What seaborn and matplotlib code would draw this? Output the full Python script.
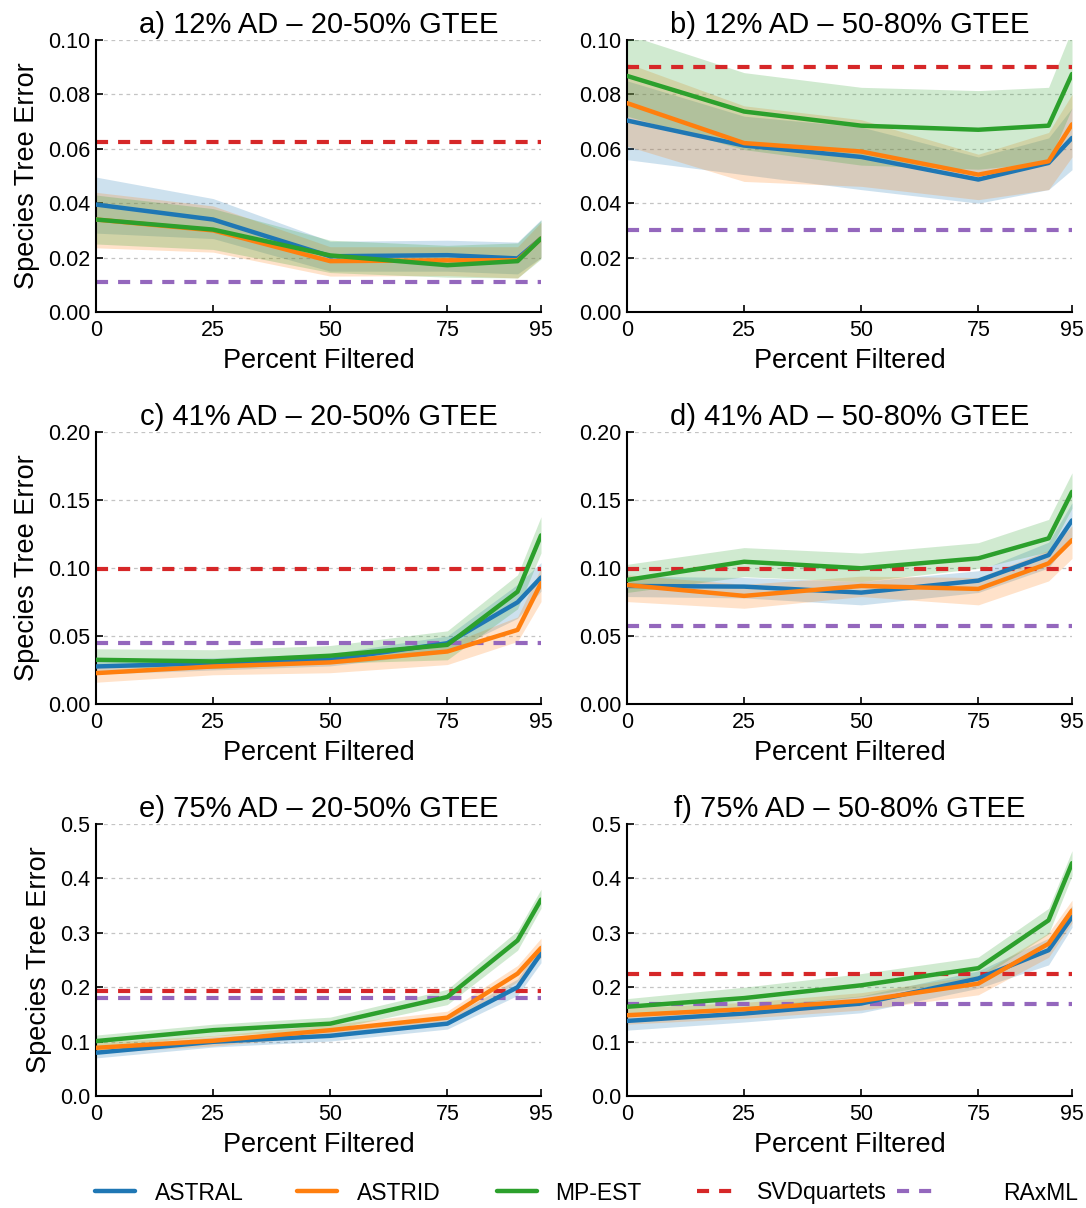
import matplotlib
matplotlib.use("Agg")
import numpy as np
import pandas as pd
import matplotlib.pyplot as plt
import seaborn as sns
from matplotlib.ticker import FormatStrFormatter
from matplotlib.lines import Line2D

sns.set_style("ticks")
plt.rcParams['font.family'] = ['Liberation Sans', 'DejaVu Sans']
plt.rcParams.update({"text.color": "black", "axes.labelcolor": "black",
                     "xtick.color": "black", "ytick.color": "black"})

# ---------------- data ----------------
filtered = [0, 25, 50, 75, 90, 95]
xticks = [0, 25, 50, 75, 95]
methods = ["ASTRAL", "ASTRID", "MP-EST"]
baselines = ["SVDquartets", "RAxML"]

titles = ["a) 12% AD – 20-50% GTEE", "b) 12% AD – 50-80% GTEE",
          "c) 41% AD – 20-50% GTEE", "d) 41% AD – 50-80% GTEE",
          "e) 75% AD – 20-50% GTEE", "f) 75% AD – 50-80% GTEE"]

# panel a
a_astral = [0.0395, 0.034, 0.0205, 0.0209, 0.0197, 0.027]
a_astral_lo = [0.029, 0.027, 0.015, 0.015, 0.014, 0.020]
a_astral_hi = [0.0496, 0.0417, 0.026, 0.0264, 0.0257, 0.034]
a_astrid = [0.034, 0.030, 0.0187, 0.019, 0.019, 0.027]
a_astrid_lo = [0.0236, 0.022, 0.0132, 0.0134, 0.0125, 0.020]
a_astrid_hi = [0.044, 0.039, 0.024, 0.024, 0.024, 0.033]
a_mpest = [0.034, 0.0303, 0.0208, 0.0172, 0.0187, 0.027]
a_mpest_lo = [0.025, 0.023, 0.0145, 0.0128, 0.0125, 0.0195]
a_mpest_hi = [0.043, 0.038, 0.0264, 0.0245, 0.0254, 0.0337]
a_svd, a_raxml = 0.0624, 0.0112

# panel b
b_astral = [0.0704, 0.0612, 0.057, 0.0487, 0.0548, 0.064]
b_astral_lo = [0.056, 0.0505, 0.045, 0.040, 0.045, 0.0523]
b_astral_hi = [0.085, 0.072, 0.068, 0.057, 0.064, 0.075]
b_astrid = [0.0768, 0.0621, 0.059, 0.0505, 0.0554, 0.069]
b_astrid_lo = [0.061, 0.048, 0.0462, 0.0413, 0.045, 0.057]
b_astrid_hi = [0.0915, 0.0758, 0.0707, 0.058, 0.066, 0.080]
b_mpest = [0.0868, 0.0737, 0.0685, 0.067, 0.0685, 0.0875]
b_mpest_lo = [0.072, 0.0597, 0.054, 0.0525, 0.055, 0.075]
b_mpest_hi = [0.102, 0.088, 0.0826, 0.0814, 0.0826, 0.104]
b_svd, b_raxml = 0.0902, 0.0301

# panel c
c_astral = [0.0276, 0.030, 0.0325, 0.0447, 0.0748, 0.093]
c_astral_lo = [0.022, 0.025, 0.028, 0.038, 0.063, 0.083]
c_astral_hi = [0.033, 0.034, 0.037, 0.050, 0.088, 0.104]
c_astrid = [0.0227, 0.0276, 0.0306, 0.0386, 0.0545, 0.0888]
c_astrid_lo = [0.016, 0.0215, 0.023, 0.029, 0.046, 0.0753]
c_astrid_hi = [0.028, 0.031, 0.034, 0.044, 0.064, 0.100]
c_mpest = [0.0325, 0.0313, 0.0355, 0.0435, 0.0826, 0.124]
c_mpest_lo = [0.0276, 0.026, 0.030, 0.0325, 0.070, 0.111]
c_mpest_hi = [0.0406, 0.0399, 0.043, 0.0538, 0.095, 0.1377]
c_svd, c_raxml = 0.099, 0.0447

# panel d
d_astral = [0.0868, 0.0863, 0.0819, 0.0907, 0.1095, 0.135]
d_astral_lo = [0.079, 0.078, 0.0729, 0.082, 0.100, 0.122]
d_astral_hi = [0.094, 0.093, 0.090, 0.098, 0.119, 0.148]
d_astrid = [0.0875, 0.0795, 0.0868, 0.0846, 0.1034, 0.1205]
d_astrid_lo = [0.0753, 0.0704, 0.079, 0.0729, 0.0905, 0.107]
d_astrid_hi = [0.095, 0.088, 0.094, 0.093, 0.113, 0.131]
d_mpest = [0.0912, 0.1046, 0.0998, 0.1071, 0.1218, 0.156]
d_mpest_lo = [0.082, 0.0936, 0.090, 0.0997, 0.112, 0.144]
d_mpest_hi = [0.1027, 0.115, 0.111, 0.1186, 0.1357, 0.170]
d_svd, d_raxml = 0.0993, 0.0572

# panel e
e_astral = [0.0795, 0.0996, 0.1106, 0.133, 0.200, 0.262]
e_astral_lo = [0.070, 0.090, 0.101, 0.123, 0.185, 0.245]
e_astral_hi = [0.089, 0.109, 0.120, 0.143, 0.215, 0.280]
e_astrid = [0.0886, 0.1015, 0.121, 0.144, 0.225, 0.272]
e_astrid_lo = [0.079, 0.092, 0.111, 0.133, 0.210, 0.255]
e_astrid_hi = [0.098, 0.111, 0.131, 0.156, 0.240, 0.290]
e_mpest = [0.1009, 0.121, 0.133, 0.182, 0.286, 0.361]
e_mpest_lo = [0.090, 0.110, 0.122, 0.168, 0.268, 0.345]
e_mpest_hi = [0.112, 0.132, 0.145, 0.196, 0.304, 0.380]
e_svd, e_raxml = 0.193, 0.180

# panel f
f_astral = [0.138, 0.1516, 0.170, 0.216, 0.268, 0.329]
f_astral_lo = [0.121, 0.136, 0.153, 0.198, 0.241, 0.310]
f_astral_hi = [0.152, 0.164, 0.184, 0.230, 0.290, 0.350]
f_astrid = [0.1485, 0.1595, 0.175, 0.2066, 0.280, 0.341]
f_astrid_lo = [0.132, 0.143, 0.158, 0.186, 0.255, 0.318]
f_astrid_hi = [0.162, 0.172, 0.190, 0.222, 0.300, 0.360]
f_mpest = [0.164, 0.180, 0.2035, 0.235, 0.323, 0.428]
f_mpest_lo = [0.148, 0.161, 0.183, 0.215, 0.298, 0.405]
f_mpest_hi = [0.179, 0.200, 0.225, 0.2555, 0.345, 0.451]
f_svd, f_raxml = 0.2243, 0.170

panels = [
    dict(mean=[a_astral, a_astrid, a_mpest], lo=[a_astral_lo, a_astrid_lo, a_mpest_lo],
         hi=[a_astral_hi, a_astrid_hi, a_mpest_hi], base=[a_svd, a_raxml]),
    dict(mean=[b_astral, b_astrid, b_mpest], lo=[b_astral_lo, b_astrid_lo, b_mpest_lo],
         hi=[b_astral_hi, b_astrid_hi, b_mpest_hi], base=[b_svd, b_raxml]),
    dict(mean=[c_astral, c_astrid, c_mpest], lo=[c_astral_lo, c_astrid_lo, c_mpest_lo],
         hi=[c_astral_hi, c_astrid_hi, c_mpest_hi], base=[c_svd, c_raxml]),
    dict(mean=[d_astral, d_astrid, d_mpest], lo=[d_astral_lo, d_astrid_lo, d_mpest_lo],
         hi=[d_astral_hi, d_astrid_hi, d_mpest_hi], base=[d_svd, d_raxml]),
    dict(mean=[e_astral, e_astrid, e_mpest], lo=[e_astral_lo, e_astrid_lo, e_mpest_lo],
         hi=[e_astral_hi, e_astrid_hi, e_mpest_hi], base=[e_svd, e_raxml]),
    dict(mean=[f_astral, f_astrid, f_mpest], lo=[f_astral_lo, f_astrid_lo, f_mpest_lo],
         hi=[f_astral_hi, f_astrid_hi, f_mpest_hi], base=[f_svd, f_raxml]),
]

row_ylim = [0.10, 0.20, 0.5]
row_yticks = [np.arange(0, 0.101, 0.02), np.arange(0, 0.201, 0.05), np.arange(0, 0.51, 0.1)]
row_fmt = ["%.2f", "%.2f", "%.1f"]

# ---------------- style ----------------
colors = {"ASTRAL": "#1f77b4", "ASTRID": "#ff7f0e", "MP-EST": "#2ca02c",
          "SVDquartets": "#d62728", "RAxML": "#9467bd"}
dash = (0, (2.9, 2.4))

W, H = 1086, 1208
fig = plt.figure(figsize=(W / 100, H / 100), dpi=100)

lefts = [96, 627]
bottoms_px = [312, 704, 1096]
ax_w, ax_h = 445, 272

for i, p in enumerate(panels):
    row, col = divmod(i, 2)
    ax = fig.add_axes([lefts[col] / W, 1 - bottoms_px[row] / H, ax_w / W, ax_h / H])
    ax.set_axisbelow(True)
    ax.yaxis.grid(True, linestyle=(0, (3, 3)), color="#c4c4c4", lw=0.9)

    for m, lo, hi in zip(methods, p["lo"], p["hi"]):
        ax.fill_between(filtered, lo, hi, color=colors[m], alpha=0.22, lw=0)

    for b, v in zip(baselines, p["base"]):
        ax.axhline(v, color=colors[b], lw=3, linestyle=dash, zorder=2)

    df = pd.DataFrame({
        "filtered": filtered * 3,
        "error": sum(p["mean"], []),
        "method": sum([[m] * len(filtered) for m in methods], []),
    })
    sns.lineplot(data=df, x="filtered", y="error", hue="method", hue_order=methods,
                 palette=colors, lw=3.2, ax=ax, legend=False, zorder=3)

    ax.set_xlim(0, 95)
    ax.set_ylim(0, row_ylim[row])
    ax.set_xticks(xticks)
    ax.set_yticks(row_yticks[row])
    ax.yaxis.set_major_formatter(FormatStrFormatter(row_fmt[row]))
    ax.tick_params(direction="in", length=5, width=1.2, labelsize=15.5)
    ax.tick_params(axis="x", pad=6)
    ax.tick_params(axis="y", pad=4)
    for s in ["top", "right"]:
        ax.spines[s].set_visible(False)
    for s in ["left", "bottom"]:
        ax.spines[s].set_linewidth(1.5)
        ax.spines[s].set_color("black")
    ax.set_title(titles[i], fontsize=21, pad=5)
    ax.set_xlabel("Percent Filtered", fontsize=19.5, labelpad=5)
    if col == 0:
        ax.set_ylabel("Species Tree Error", fontsize=19.5, labelpad=6)
    else:
        ax.set_ylabel("")

# legend: one entry per slot along the bottom
labels = methods + baselines
handles = [Line2D([], [], color=colors[m], lw=3.2) for m in methods] + \
          [Line2D([], [], color=colors[b], lw=3, linestyle=dash) for b in baselines]
slot_x = [95, 297, 497, 697, 897]
text_pad = [0.87, 0.87, 0.8, 0.87, 2.9]
for h, lab, sx, tp in zip(handles, labels, slot_x, text_pad):
    fig.legend([h], [lab], loc="center left", bbox_to_anchor=(sx / W, 1 - 1193 / H),
               frameon=False, fontsize=16.5, handlelength=1.75, handletextpad=tp,
               borderpad=0, borderaxespad=0)

fig.savefig("out.png", dpi=100)
